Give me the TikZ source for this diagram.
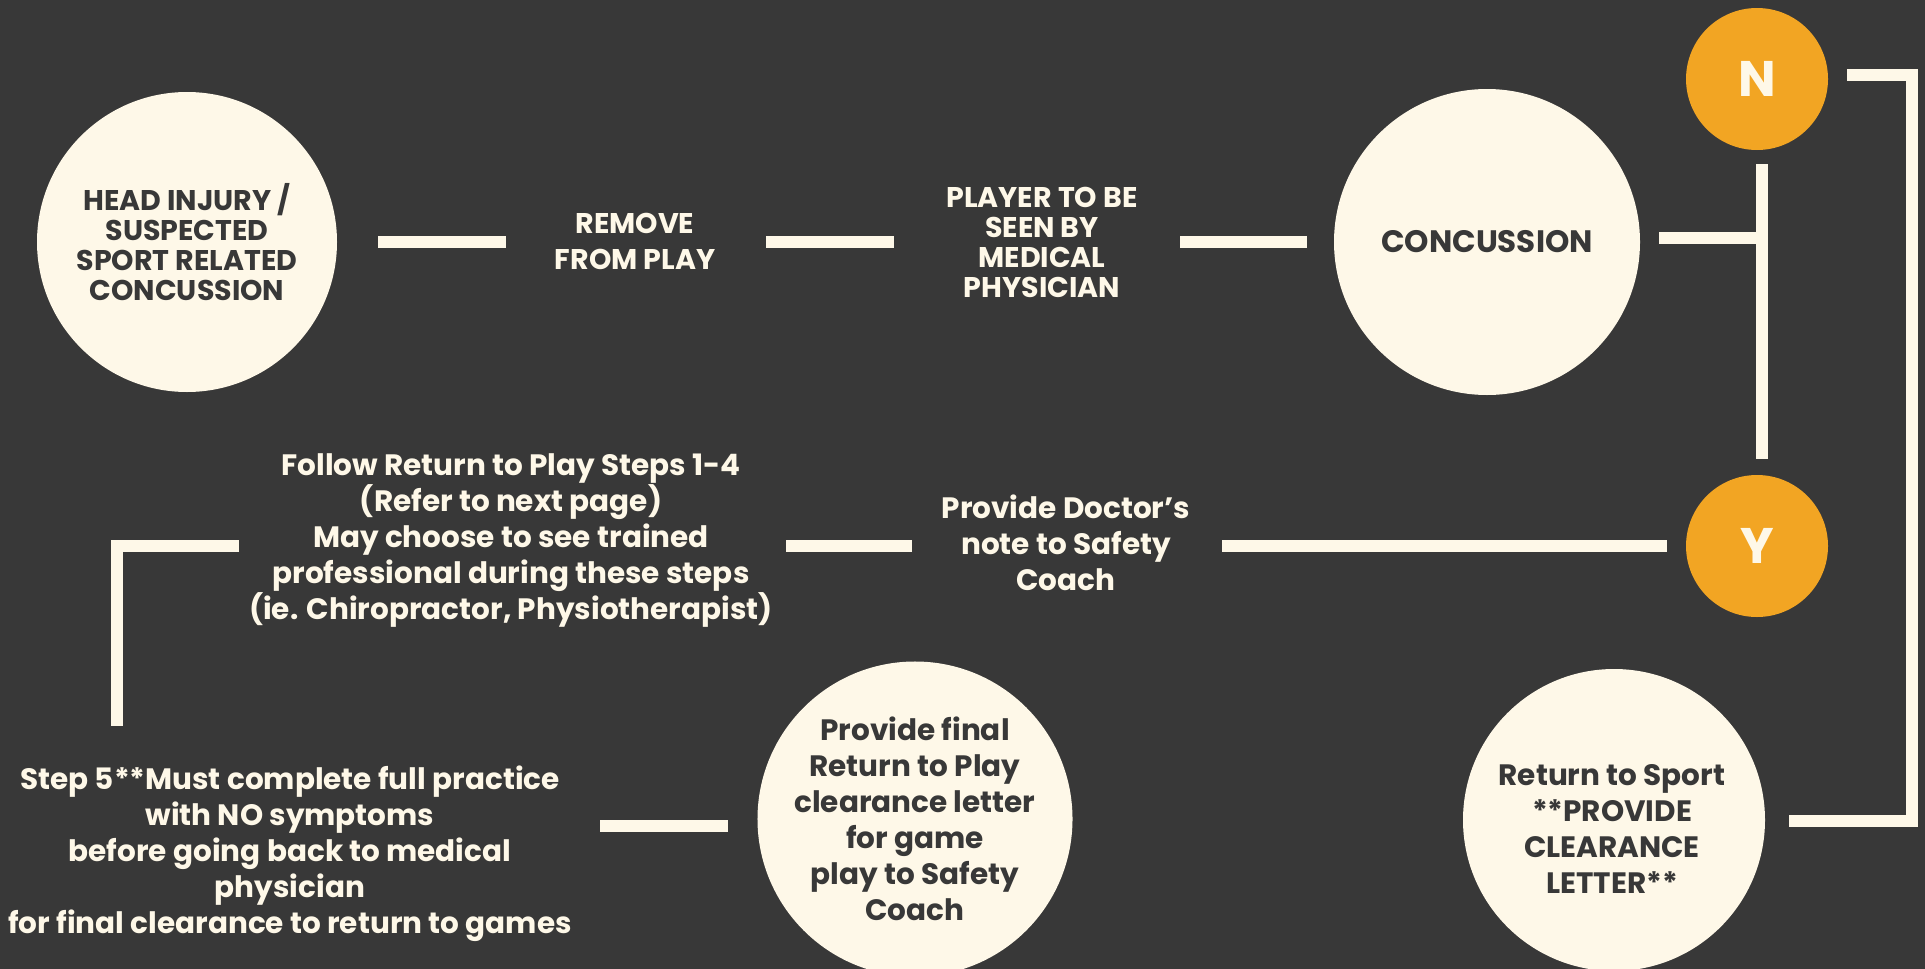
\documentclass[tikz,border=0pt]{standalone}
\usepackage{fontspec}
\setmainfont{Poppins}
\usetikzlibrary{positioning}
\definecolor{bgdark}{HTML}{383838}
\definecolor{cream}{HTML}{FEF8E8}
\definecolor{amber}{HTML}{F2A523}
\tikzset{
  bubble/.style={circle, fill=cream, text=bgdark, minimum size=300pt, inner sep=0pt, align=center},
  choice/.style={circle, fill=amber, text=cream, minimum size=142pt, inner sep=0pt, font=\fontsize{50}{56}\selectfont\bfseries},
  headtext/.style={font=\fontsize{28.5}{30}\selectfont\bfseries},
  bodytext/.style={font=\fontsize{29.5}{36}\selectfont\bfseries},
  stepnote/.style={text=cream, align=center},
  link/.style={draw=cream, line width=12pt}
}
\begin{document}
\begin{tikzpicture}[x=1pt, y=-1pt]
\fill[bgdark] (0,0) rectangle (1925,969);
\useasboundingbox (0,0) rectangle (1925,969);
\clip (0,0) rectangle (1925,969);
% top row
\node[bubble, headtext] (injury) at (187,242) {HEAD INJURY /\\SUSPECTED\\SPORT RELATED\\CONCUSSION};
\node[stepnote, headtext, font=\fontsize{28.5}{36}\selectfont\bfseries] (remove) at (635,241) {REMOVE\\FROM PLAY};
\node[stepnote, headtext] (physician) at (1042,242) {PLAYER TO BE\\SEEN BY\\MEDICAL\\PHYSICIAN};
\node[bubble, headtext, font=\fontsize{31}{36}\selectfont\bfseries, minimum size=306pt] (concussion) at (1487,242) {CONCUSSION};
\node[choice] (no) at (1757,79) {N};
\node[choice] (yes) at (1757,546) {Y};
% middle row
\node[stepnote, bodytext] (doctor) at (1066,543) {Provide Doctor's\\note to Safety\\Coach};
\node[stepnote, bodytext] (follow) at (511,541) {Follow Return to Play Steps 1-4\\(Refer to next page)\\May choose to see trained\\professional during these steps\\(ie. Chiropractor, Physiotherapist)};
% bottom row
\node[stepnote, bodytext] (stepfive) at (290,854) {Step 5**Must complete full practice\\with NO symptoms\\before going back to medical\\physician\\for final clearance to return to games};
\node[bubble, bodytext] (final) at (915,819) {Provide final\\Return to Play\\clearance letter\\for game\\play to Safety\\Coach};
\node[bubble, bodytext, minimum size=302pt] (sport) at (1614,820) {};
\node[bodytext, text=bgdark, align=center] (sporttext) at (1612,829) {Return to Sport\\**PROVIDE\\CLEARANCE\\LETTER**};
% line ends
\coordinate (a1) at (378,242); \coordinate (a2) at (506,242);
\coordinate (b1) at (766,242); \coordinate (b2) at (894,242);
\coordinate (c1) at (1180,242); \coordinate (c2) at (1307,242);
\coordinate (d1) at (1659,238); \coordinate (d2) at (1757,238);
\coordinate (barTop) at (1762,164); \coordinate (barBot) at (1762,459);
\coordinate (e1) at (1222,546); \coordinate (e2) at (1667,546);
\coordinate (f1) at (786,546); \coordinate (f2) at (912,546);
\coordinate (g1) at (239,546); \coordinate (gc) at (117,546); \coordinate (g2) at (117,726);
\coordinate (h1) at (600,826); \coordinate (h2) at (728,826);
\coordinate (r1) at (1847,75); \coordinate (rc1) at (1912,75);
\coordinate (rc2) at (1912,821); \coordinate (r2) at (1789,821);
\foreach \p/\q in {a1/a2, b1/b2, c1/c2, d1/d2, barTop/barBot, e1/e2, f1/f2, h1/h2} {
  \draw[link] (\p) -- (\q);
}
\draw[link, line join=miter] (g1) -- (gc) -- (g2);
\draw[link, line join=miter] (r1) -- (rc1) -- (rc2) -- (r2);
\end{tikzpicture}
\end{document}
